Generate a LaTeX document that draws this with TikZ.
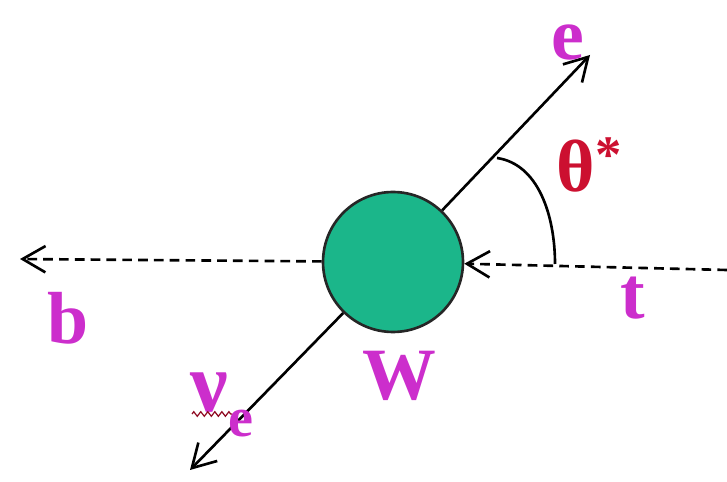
\documentclass[tikz,border=0pt]{standalone}
\usepackage{fontspec}
\setmainfont{Liberation Serif}
\usetikzlibrary{arrows.meta, decorations.pathmorphing}
\definecolor{ballc}{HTML}{1BB68A}
\definecolor{magc}{HTML}{CC2ECC}
\definecolor{angc}{HTML}{CC1030}

\begin{document}
\begin{tikzpicture}[x=0.02cm, y=-0.02cm,
      >={Straight Barb[length=13pt, width=15pt, line width=1.5pt]},
      line/.style={line width=1.5pt, black},
      dashline/.style={line width=1.5pt, black, dash pattern=on 5.5pt off 3.5pt},
      lbl/.style={inner sep=0pt, font=\fontsize{42}{44}\selectfont\bfseries}]
    \useasboundingbox (0,0) rectangle (727,482);

    \node[circle, draw=black!85, line width=1.5pt, fill=ballc,
          minimum size=2.8cm, inner sep=0pt] (w) at (393,262) {};

    \coordinate (eend) at (590,55);
    \coordinate (nuend) at (190,470);
    \coordinate (bend) at (20,259);
    \coordinate (tin) at (727,270);

    \draw[line, ->] (w) -- (eend);
    \draw[line, ->] (w) -- (nuend);
    \draw[dashline, ->] (w) -- (bend);
    \draw[dashline, ->] (tin) -- (w);

    % angle between e and t
    \draw[line] (497,158) .. controls (538,164) and (555,215) .. (555,264);

    \node[lbl, magc] (elbl) at (568,42) {e};
    \node[lbl, angc] (thlbl) at (589,165)
      {θ\raisebox{0.25em}{\fontsize{30}{30}\selectfont *}};
    \node[lbl, magc] (tlbl) at (633,298) {t};
    \node[lbl, magc] (blbl) at (68,318) {b};
    \node[lbl, magc] (wlbl) at (399,376) {W};
    \node[lbl, magc, font=\fontsize{48}{50}\selectfont\bfseries] (nulbl) at (222,405)
      {ν\raisebox{-0.3em}{\fontsize{32}{32}\selectfont e}};
    \draw[angc!70!black, line width=0.7pt,
          decorate, decoration={zigzag, segment length=4pt, amplitude=1.3pt}]
      (192,414) -- (232,414);
  \end{tikzpicture}
\end{document}
